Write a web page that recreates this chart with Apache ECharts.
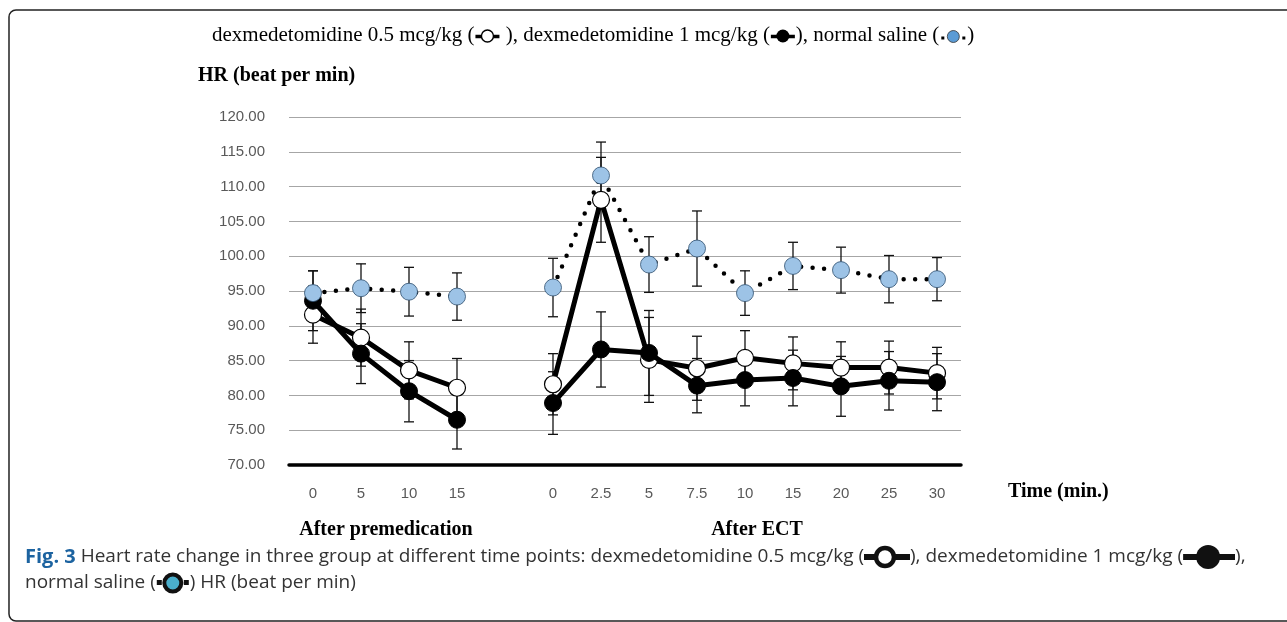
<!DOCTYPE html>
<html>
<head>
<meta charset="utf-8">
<script src="https://cdn.jsdelivr.net/npm/echarts@6/dist/echarts.min.js"></script>
<style>
html,body{margin:0;padding:0;background:#fff;}
#c{width:1287px;height:622px;}
</style>
</head>
<body>
<div id="c"></div>
<script>
// ---- data ----
const categories = ['0','5','10','15','','0','2.5','5','7.5','10','15','20','25','30'];
const dex05 = [91.6, 88.3, 83.6, 81.1, '-', 81.6, 108.1, 85.1, 83.9, 85.4, 84.6, 84.0, 84.0, 83.2];
const dex05Err = [4.1, 4.1, 4.1, 4.2, '-', 4.4, 6.1, 6.1, 4.6, 3.9, 3.8, 3.7, 3.8, 3.7];
const dex1 = [93.6, 86.0, 80.6, 76.5, '-', 78.9, 86.6, 86.1, 81.4, 82.2, 82.5, 81.3, 82.1, 81.9];
const dex1Err = [4.3, 4.3, 4.4, 4.2, '-', 4.5, 5.4, 6.1, 3.9, 3.7, 4.0, 4.3, 4.2, 4.1];
const saline = [94.7, 95.4, 94.9, 94.2, '-', 95.5, 111.6, 98.8, 101.1, 94.7, 98.6, 98.0, 96.7, 96.7];
const salineErr = [3.2, 3.5, 3.5, 3.4, '-', 4.2, 4.8, 4.0, 5.4, 3.2, 3.4, 3.3, 3.4, 3.1];
const yMin = 70, yMax = 120, yStep = 5;

function svgURI(s){ return 'data:image/svg+xml;charset=utf-8,' + encodeURIComponent(s); }
const svgs = {
  lw: '<svg xmlns="http://www.w3.org/2000/svg" width="26" height="16"><line x1="1" y1="9" x2="25" y2="9" stroke="#000" stroke-width="3.5"/><circle cx="13" cy="8.5" r="6" fill="#fff" stroke="#000" stroke-width="1.4"/></svg>',
  lb: '<svg xmlns="http://www.w3.org/2000/svg" width="26" height="16"><line x1="1" y1="9" x2="25" y2="9" stroke="#000" stroke-width="3.5"/><circle cx="13" cy="8.5" r="6.5" fill="#000"/></svg>',
  ls: '<svg xmlns="http://www.w3.org/2000/svg" width="28" height="16"><rect x="2" y="9" width="3" height="3" fill="#000"/><rect x="23" y="9" width="3" height="3" fill="#000"/><circle cx="14" cy="9" r="6" fill="#5b9bd5" stroke="#333" stroke-width="0.8"/></svg>',
  cw: '<svg xmlns="http://www.w3.org/2000/svg" width="46" height="26"><line x1="0" y1="13" x2="46" y2="13" stroke="#111" stroke-width="6"/><circle cx="21" cy="13" r="9" fill="#fff" stroke="#111" stroke-width="4.5"/></svg>',
  cb: '<svg xmlns="http://www.w3.org/2000/svg" width="52" height="28"><line x1="0" y1="14" x2="52" y2="14" stroke="#111" stroke-width="6"/><circle cx="25" cy="14" r="12" fill="#111"/></svg>',
  cs: '<svg xmlns="http://www.w3.org/2000/svg" width="34" height="28"><rect x="1" y="11" width="5" height="5" fill="#111"/><rect x="28" y="11" width="5" height="5" fill="#111"/><circle cx="17" cy="14" r="8.5" fill="#4aaecb" stroke="#111" stroke-width="4"/></svg>'
};
const imgs = {};
const loads = Object.keys(svgs).map(k => new Promise(res => {
  const im = new Image(); im.onload = res; im.onerror = res; im.src = svgURI(svgs[k]); imgs[k] = im;
}));

function errData(vals, errs){
  const out = [];
  vals.forEach((v,i) => { if (v !== '-') out.push([i, v, errs[i]]); });
  return out;
}
function errSeries(vals, errs, z){
  return {
    type: 'custom', z: z, silent: true,
    data: errData(vals, errs),
    renderItem: function(params, api){
      const i = api.value(0), v = api.value(1), e = api.value(2);
      const t = api.coord([i, v + e]), b = api.coord([i, v - e]);
      const cw = 5;
      const st = {stroke: '#111', lineWidth: 1.3};
      return {type: 'group', children: [
        {type: 'line', shape: {x1: t[0], y1: t[1], x2: b[0], y2: b[1]}, style: st},
        {type: 'line', shape: {x1: t[0]-cw, y1: t[1], x2: t[0]+cw, y2: t[1]}, style: st},
        {type: 'line', shape: {x1: b[0]-cw, y1: b[1], x2: b[0]+cw, y2: b[1]}, style: st}
      ]};
    }
  };
}

Promise.all(loads).then(() => {
  const chart = echarts.init(document.getElementById('c'));
  const serif = '"Liberation Serif", "Times New Roman", serif';
  const sans = '"Liberation Sans", Arial, sans-serif';
  const cap = '"Open Sans", "Noto Sans", sans-serif';
  const option = {
    backgroundColor: '#fff',
    animation: false,
    grid: {left: 289, right: 326, top: 117, bottom: 157, containLabel: false},
    xAxis: {
      type: 'category', data: categories, boundaryGap: true,
      axisLine: {show: true, lineStyle: {color: '#000', width: 3.5}},
      axisTick: {show: false},
      axisLabel: {color: '#595959', fontFamily: sans, fontSize: 15, margin: 21, interval: 0},
      splitLine: {show: false}
    },
    yAxis: {
      type: 'value', min: yMin, max: yMax, interval: yStep,
      axisLine: {show: false}, axisTick: {show: false},
      axisLabel: {color: '#595959', fontFamily: sans, fontSize: 15, margin: 24, formatter: v => v.toFixed(2)},
      splitLine: {show: true, lineStyle: {color: '#a6a6a6', width: 1}}
    },
    series: [
      errSeries(dex05, dex05Err, 2),
      errSeries(dex1, dex1Err, 2),
      errSeries(saline, salineErr, 2),
      {
        name: 'dexmedetomidine 0.5 mcg/kg', type: 'line', data: dex05, z: 3,
        connectNulls: false, symbol: 'circle', symbolSize: 17,
        lineStyle: {color: '#000', width: 5},
        itemStyle: {color: '#fff', borderColor: '#000', borderWidth: 1.2}
      },
      {
        name: 'dexmedetomidine 1 mcg/kg', type: 'line', data: dex1, z: 4,
        connectNulls: false, symbol: 'circle', symbolSize: 17,
        lineStyle: {color: '#000', width: 5},
        itemStyle: {color: '#000', borderColor: '#000', borderWidth: 1}
      },
      {
        name: 'normal saline', type: 'line', data: saline, z: 5,
        connectNulls: false, symbol: 'circle', symbolSize: 17,
        lineStyle: {color: '#000', width: 4.5, type: [0, 11.5], cap: 'round'},
        itemStyle: {color: '#9dc3e6', borderColor: '#2f4f6f', borderWidth: 0.8}
      }
    ],
    graphic: [
      {type: 'rect', z: 0, shape: {x: 9, y: 10, width: 1400, height: 611, r: 7},
       style: {fill: 'none', stroke: '#222', lineWidth: 1.5}},
      {type: 'text', left: 212, top: 25, z: 10, style: {
        text: 'dexmedetomidine 0.5 mcg/kg ({lw|} ), dexmedetomidine 1 mcg/kg ({lb|}), normal saline ({ls|})',
        font: '21px ' + serif, fill: '#000',
        rich: {
          lw: {width: 26, height: 16, backgroundColor: {image: imgs.lw}},
          lb: {width: 26, height: 16, backgroundColor: {image: imgs.lb}},
          ls: {width: 28, height: 16, backgroundColor: {image: imgs.ls}}
        }
      }},
      {type: 'text', left: 198, top: 66, z: 10, style: {text: 'HR (beat per min)', font: 'bold 20px ' + serif, fill: '#000'}},
      {type: 'text', left: 1008, top: 482, z: 10, style: {text: 'Time (min.)', font: 'bold 20px ' + serif, fill: '#000'}},
      {type: 'text', x: 386, y: 530, z: 10, style: {text: 'After premedication', font: 'bold 20px ' + serif, fill: '#000', align: 'center', verticalAlign: 'middle'}},
      {type: 'text', x: 757, y: 530, z: 10, style: {text: 'After ECT', font: 'bold 20px ' + serif, fill: '#000', align: 'center', verticalAlign: 'middle'}},
      {type: 'text', left: 25, top: 543, z: 10, style: {
        text: '{f|Fig. 3} Heart rate change in three group at different time points: dexmedetomidine 0.5 mcg/kg ({cw|}), dexmedetomidine 1 mcg/kg ({cb|}),\nnormal saline ({cs|}) HR (beat per min)',
        font: '19px ' + cap, fill: '#333', lineHeight: 26,
        rich: {
          f: {font: 'bold 20px ' + cap, fill: '#1c63a0'},
          cw: {width: 46, height: 26, backgroundColor: {image: imgs.cw}},
          cb: {width: 52, height: 28, backgroundColor: {image: imgs.cb}},
          cs: {width: 34, height: 28, backgroundColor: {image: imgs.cs}}
        }
      }}
    ]
  };
  chart.setOption(option);
});
</script>
</body>
</html>
